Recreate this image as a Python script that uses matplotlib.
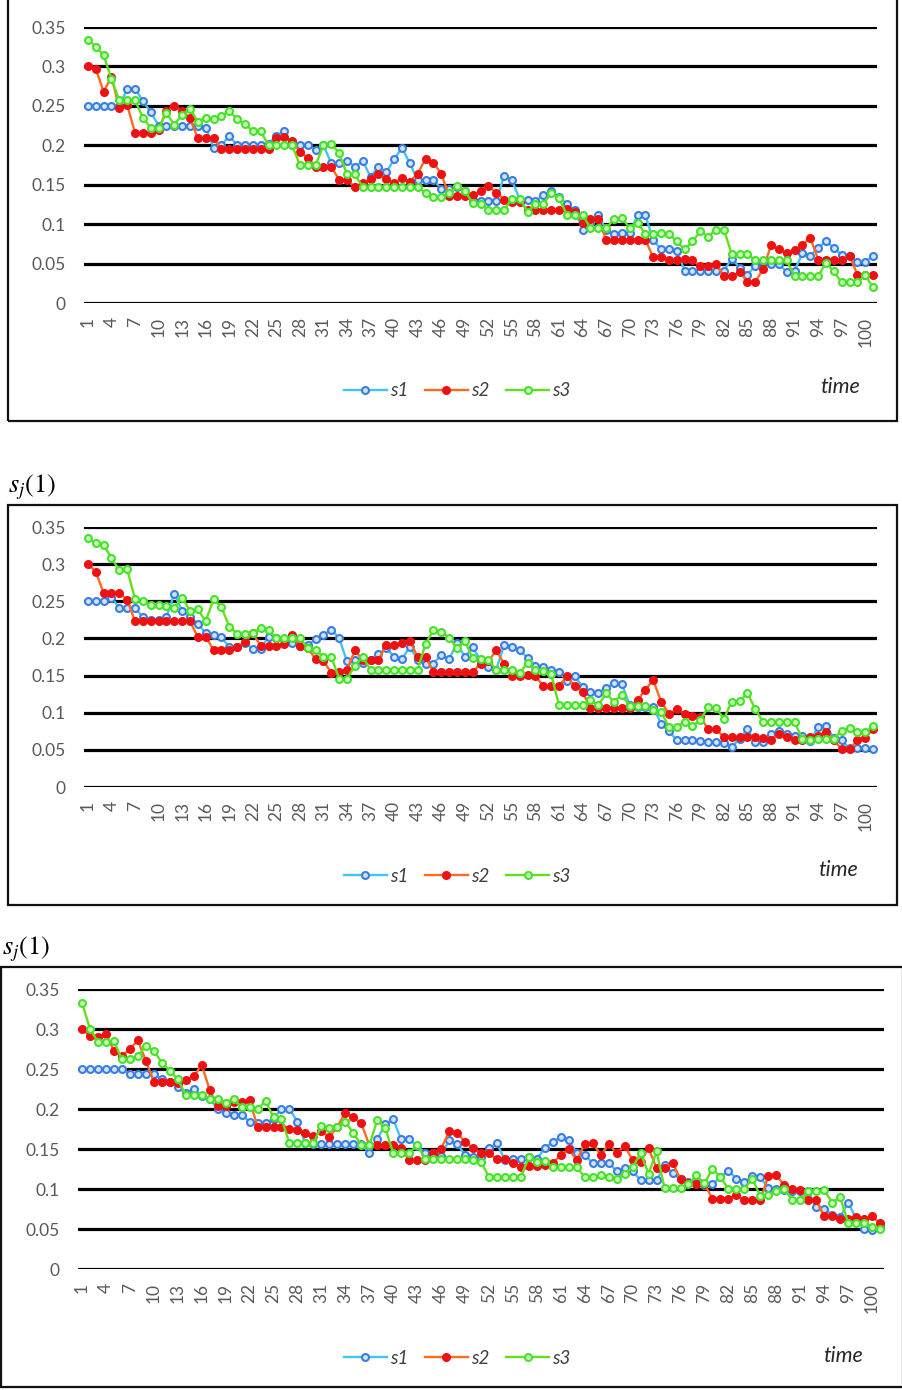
import matplotlib
matplotlib.use("Agg")
import matplotlib.pyplot as plt
from matplotlib.patches import Rectangle
import numpy as np

# ---- data -------------------------------------------------------------
time_steps = list(range(1, 102))
tick_labels = [str(t) for t in range(1, 101, 3)]
y_ticks = [0, 0.05, 0.1, 0.15, 0.2, 0.25, 0.3, 0.35]
y_tick_labels = ["0", "0.05", "0.1", "0.15", "0.2", "0.25", "0.3", "0.35"]
series_names = ["s1", "s2", "s3"]

p1_s1 = [0.25, 0.25, 0.25, 0.25, 0.25, 0.271, 0.272, 0.256, 0.242, 0.225,
         0.225, 0.225, 0.225, 0.225, 0.225, 0.222, 0.197, 0.2, 0.212, 0.2,
         0.2, 0.2, 0.2, 0.202, 0.212, 0.218, 0.2, 0.2, 0.2, 0.194,
         0.2, 0.177, 0.177, 0.18, 0.173, 0.18, 0.16, 0.173, 0.166, 0.182,
         0.197, 0.177, 0.156, 0.156, 0.156, 0.145, 0.145, 0.147, 0.142, 0.131,
         0.129, 0.129, 0.129, 0.161, 0.156, 0.131, 0.131, 0.129, 0.137, 0.142,
         0.135, 0.125, 0.118, 0.093, 0.101, 0.112, 0.093, 0.087, 0.089, 0.089,
         0.111, 0.111, 0.08, 0.068, 0.068, 0.066, 0.041, 0.041, 0.041, 0.041,
         0.041, 0.041, 0.056, 0.045, 0.036, 0.047, 0.052, 0.05, 0.05, 0.039,
         0.041, 0.063, 0.06, 0.07, 0.078, 0.07, 0.061, 0.06, 0.052, 0.052, 0.06]
p1_s2 = [0.301, 0.297, 0.268, 0.287, 0.247, 0.251, 0.216, 0.216, 0.216, 0.22,
         0.244, 0.25, 0.244, 0.234, 0.209, 0.209, 0.209, 0.195, 0.195, 0.195,
         0.195, 0.195, 0.195, 0.195, 0.209, 0.211, 0.205, 0.192, 0.184, 0.173,
         0.173, 0.173, 0.156, 0.156, 0.147, 0.152, 0.157, 0.164, 0.157, 0.152,
         0.158, 0.154, 0.164, 0.183, 0.178, 0.164, 0.136, 0.136, 0.136, 0.137,
         0.142, 0.148, 0.14, 0.131, 0.128, 0.128, 0.118, 0.118, 0.118, 0.118,
         0.118, 0.119, 0.115, 0.101, 0.107, 0.107, 0.08, 0.08, 0.08, 0.08,
         0.08, 0.08, 0.058, 0.058, 0.055, 0.054, 0.056, 0.054, 0.047, 0.047,
         0.05, 0.034, 0.034, 0.039, 0.027, 0.027, 0.043, 0.073, 0.068, 0.063,
         0.067, 0.073, 0.083, 0.055, 0.055, 0.055, 0.055, 0.06, 0.036, 0.036, 0.036]
p1_s3 = [0.334, 0.325, 0.314, 0.284, 0.257, 0.257, 0.257, 0.235, 0.222, 0.222,
         0.241, 0.226, 0.239, 0.246, 0.23, 0.235, 0.233, 0.237, 0.244, 0.233,
         0.227, 0.218, 0.218, 0.2, 0.2, 0.2, 0.2, 0.175, 0.175, 0.175,
         0.2, 0.202, 0.19, 0.163, 0.163, 0.147, 0.147, 0.147, 0.147, 0.147,
         0.147, 0.147, 0.147, 0.14, 0.134, 0.134, 0.139, 0.148, 0.142, 0.127,
         0.126, 0.118, 0.118, 0.118, 0.132, 0.132, 0.116, 0.125, 0.125, 0.14,
         0.133, 0.112, 0.112, 0.112, 0.095, 0.095, 0.095, 0.106, 0.108, 0.095,
         0.102, 0.087, 0.087, 0.089, 0.088, 0.078, 0.068, 0.078, 0.091, 0.084,
         0.093, 0.093, 0.062, 0.062, 0.062, 0.054, 0.054, 0.054, 0.054, 0.054,
         0.034, 0.034, 0.034, 0.034, 0.051, 0.04, 0.026, 0.026, 0.026, 0.035, 0.02]

p2_s1 = [0.25, 0.25, 0.25, 0.255, 0.241, 0.241, 0.241, 0.229, 0.225, 0.225,
         0.229, 0.26, 0.237, 0.229, 0.22, 0.207, 0.205, 0.202, 0.188, 0.188,
         0.194, 0.186, 0.186, 0.202, 0.2, 0.199, 0.194, 0.19, 0.191, 0.199,
         0.205, 0.212, 0.2, 0.169, 0.171, 0.167, 0.171, 0.179, 0.187, 0.175,
         0.172, 0.189, 0.171, 0.166, 0.166, 0.178, 0.172, 0.194, 0.175, 0.188,
         0.171, 0.162, 0.158, 0.191, 0.188, 0.185, 0.173, 0.163, 0.162, 0.158,
         0.155, 0.143, 0.149, 0.135, 0.128, 0.127, 0.133, 0.14, 0.139, 0.11,
         0.108, 0.108, 0.108, 0.085, 0.075, 0.063, 0.063, 0.063, 0.062, 0.061,
         0.06, 0.059, 0.054, 0.065, 0.078, 0.06, 0.06, 0.072, 0.076, 0.072,
         0.068, 0.069, 0.062, 0.081, 0.082, 0.066, 0.063, 0.052, 0.052, 0.052, 0.051]
p2_s2 = [0.3, 0.29, 0.261, 0.261, 0.261, 0.252, 0.223, 0.223, 0.223, 0.223,
         0.223, 0.223, 0.223, 0.223, 0.202, 0.202, 0.185, 0.185, 0.185, 0.188,
         0.195, 0.207, 0.19, 0.19, 0.19, 0.192, 0.205, 0.19, 0.187, 0.172,
         0.169, 0.154, 0.155, 0.158, 0.184, 0.171, 0.171, 0.171, 0.191, 0.191,
         0.194, 0.197, 0.175, 0.175, 0.155, 0.155, 0.155, 0.155, 0.155, 0.155,
         0.166, 0.169, 0.184, 0.166, 0.149, 0.149, 0.151, 0.149, 0.136, 0.136,
         0.136, 0.149, 0.136, 0.128, 0.106, 0.106, 0.106, 0.106, 0.106, 0.106,
         0.117, 0.131, 0.144, 0.115, 0.098, 0.105, 0.098, 0.095, 0.094, 0.078,
         0.078, 0.067, 0.067, 0.067, 0.067, 0.067, 0.066, 0.063, 0.071, 0.067,
         0.063, 0.063, 0.067, 0.068, 0.074, 0.063, 0.051, 0.051, 0.063, 0.066, 0.078]
p2_s3 = [0.335, 0.329, 0.326, 0.308, 0.292, 0.293, 0.253, 0.251, 0.245, 0.245,
         0.244, 0.241, 0.255, 0.237, 0.239, 0.223, 0.253, 0.242, 0.216, 0.206,
         0.206, 0.207, 0.214, 0.211, 0.2, 0.2, 0.2, 0.2, 0.187, 0.185,
         0.175, 0.175, 0.146, 0.146, 0.163, 0.175, 0.158, 0.158, 0.158, 0.158,
         0.158, 0.158, 0.158, 0.193, 0.211, 0.209, 0.201, 0.187, 0.197, 0.173,
         0.172, 0.171, 0.158, 0.158, 0.158, 0.154, 0.167, 0.157, 0.156, 0.152,
         0.11, 0.11, 0.11, 0.11, 0.117, 0.11, 0.126, 0.115, 0.124, 0.109,
         0.109, 0.109, 0.103, 0.101, 0.081, 0.081, 0.088, 0.082, 0.09, 0.108,
         0.106, 0.092, 0.115, 0.116, 0.126, 0.105, 0.087, 0.087, 0.087, 0.087,
         0.087, 0.065, 0.063, 0.065, 0.065, 0.065, 0.076, 0.08, 0.074, 0.074, 0.082]

p3_s1 = [0.25, 0.25, 0.25, 0.25, 0.25, 0.25, 0.244, 0.244, 0.244, 0.244,
         0.237, 0.234, 0.227, 0.22, 0.225, 0.216, 0.213, 0.2, 0.195, 0.193,
         0.193, 0.184, 0.183, 0.182, 0.188, 0.2, 0.2, 0.184, 0.157, 0.156,
         0.156, 0.156, 0.156, 0.156, 0.156, 0.156, 0.145, 0.162, 0.181, 0.187,
         0.162, 0.162, 0.154, 0.145, 0.145, 0.141, 0.161, 0.156, 0.143, 0.14,
         0.14, 0.151, 0.157, 0.136, 0.138, 0.138, 0.14, 0.138, 0.151, 0.159,
         0.165, 0.161, 0.145, 0.143, 0.132, 0.132, 0.132, 0.123, 0.126, 0.122,
         0.111, 0.111, 0.111, 0.13, 0.12, 0.112, 0.109, 0.108, 0.105, 0.106,
         0.115, 0.123, 0.113, 0.109, 0.116, 0.115, 0.101, 0.1, 0.099, 0.098,
         0.098, 0.098, 0.077, 0.075, 0.068, 0.065, 0.083, 0.063, 0.05, 0.049, 0.053]
p3_s2 = [0.3, 0.291, 0.29, 0.294, 0.273, 0.266, 0.275, 0.286, 0.26, 0.234,
         0.234, 0.234, 0.233, 0.236, 0.241, 0.255, 0.224, 0.204, 0.204, 0.209,
         0.209, 0.211, 0.178, 0.178, 0.178, 0.178, 0.175, 0.174, 0.17, 0.166,
         0.172, 0.165, 0.178, 0.195, 0.19, 0.182, 0.155, 0.155, 0.155, 0.155,
         0.151, 0.136, 0.136, 0.136, 0.145, 0.15, 0.172, 0.17, 0.159, 0.151,
         0.145, 0.145, 0.137, 0.137, 0.133, 0.128, 0.129, 0.129, 0.13, 0.133,
         0.142, 0.15, 0.136, 0.156, 0.158, 0.142, 0.156, 0.145, 0.154, 0.136,
         0.134, 0.151, 0.126, 0.126, 0.133, 0.112, 0.107, 0.106, 0.106, 0.088,
         0.088, 0.088, 0.092, 0.086, 0.086, 0.086, 0.116, 0.117, 0.105, 0.1,
         0.099, 0.086, 0.086, 0.066, 0.066, 0.062, 0.062, 0.065, 0.062, 0.066, 0.057]
p3_s3 = [0.333, 0.3, 0.284, 0.284, 0.285, 0.262, 0.262, 0.266, 0.279, 0.273,
         0.258, 0.248, 0.237, 0.218, 0.218, 0.218, 0.213, 0.213, 0.208, 0.213,
         0.202, 0.202, 0.2, 0.21, 0.19, 0.188, 0.157, 0.157, 0.157, 0.157,
         0.179, 0.176, 0.178, 0.184, 0.17, 0.155, 0.155, 0.186, 0.176, 0.145,
         0.145, 0.145, 0.155, 0.138, 0.138, 0.137, 0.137, 0.137, 0.137, 0.136,
         0.134, 0.115, 0.115, 0.115, 0.115, 0.115, 0.14, 0.134, 0.135, 0.127,
         0.127, 0.127, 0.127, 0.115, 0.115, 0.117, 0.115, 0.113, 0.119, 0.127,
         0.145, 0.119, 0.147, 0.101, 0.101, 0.101, 0.106, 0.117, 0.107, 0.125,
         0.115, 0.1, 0.1, 0.1, 0.113, 0.091, 0.092, 0.097, 0.1, 0.086,
         0.086, 0.097, 0.097, 0.099, 0.083, 0.09, 0.058, 0.058, 0.058, 0.053, 0.05]

panels = [(p1_s1, p1_s2, p1_s3), (p2_s1, p2_s2, p2_s3), (p3_s1, p3_s2, p3_s3)]

# ---- styling ------------------------------------------------------------
W, H = 902, 1390
TICK_FONT = "Lato"
TICK_COLOR = "#595959"

styles = [
    dict(color="#3fc4f4", marker="o", mfc="#cfe6ff", mec="#3b7de0", ms=5.0, mew=1.5, lw=1.7),
    dict(color="#ff6a1f", marker="o", mfc="#ee1111", mec="#ee1111", ms=5.3, mew=1.2, lw=1.7),
    dict(color="#63e01c", marker="o", mfc="#c8ffb0", mec="#48e030", ms=5.0, mew=1.5, lw=1.7),
]

# pixel layout: axes box (left, right, top, bottom), outer frame, legend row, "time", y label
layouts = [
    dict(ax=(84, 877, 27, 303), box=(8, -3, 897, 421), leg_y=391, ypad=13,
         time=(840, 387), ylabel=None),
    dict(ax=(84, 877, 527, 787), box=(8, 505, 897, 905), leg_y=876, ypad=13,
         time=(838, 870), ylabel=(8, 487)),
    dict(ax=(78, 884, 989, 1269), box=(1, 967, 903, 1387), leg_y=1358, ypad=13,
         time=(843, 1356), ylabel=(2, 949)),
]

plt.rcParams["mathtext.fontset"] = "stix"
fig = plt.figure(figsize=(W / 100, H / 100), dpi=100)

for data, lay in zip(panels, layouts):
    l, r, t, b = lay["ax"]
    ax = fig.add_axes([l / W, 1 - b / H, (r - l) / W, (b - t) / H])
    ax.set_xlim(0.5, 101.5)
    ax.set_ylim(0, 0.35)
    for gy in y_ticks:
        ax.axhline(gy, color="black", lw=2.3, zorder=1)
    handles = []
    for vals, st, name in zip(data, styles, series_names):
        h, = ax.plot(time_steps, vals, label=name, zorder=3, clip_on=False, **st)
        handles.append(h)
    for s in ax.spines.values():
        s.set_visible(False)
    ax.set_yticks(y_ticks)
    ax.set_yticklabels(y_tick_labels, fontsize=12.5, color=TICK_COLOR, family=TICK_FONT)
    ax.set_xticks(list(range(1, 101, 3)))
    ax.set_xticklabels(tick_labels, rotation=90, fontsize=12.5, color=TICK_COLOR,
                       family=TICK_FONT)
    ax.tick_params(axis="both", length=0)
    ax.tick_params(axis="y", pad=lay["ypad"])
    ax.tick_params(axis="x", pad=10)

    # outer frame around the chart
    x0, y0, x1, y1 = lay["box"]
    fig.patches.append(Rectangle((x0 / W, 1 - y1 / H), (x1 - x0) / W, (y1 - y0) / H,
                                 transform=fig.transFigure, fill=False,
                                 edgecolor="#111111", lw=1.6))

    leg = fig.legend(handles=handles, loc="center", ncol=3, frameon=False,
                     bbox_to_anchor=(457 / W, 1 - lay["leg_y"] / H),
                     handlelength=2.3, handletextpad=0.15, columnspacing=0.9,
                     prop=dict(family=TICK_FONT, style="italic", size=13.5))
    for txt in leg.get_texts():
        txt.set_color("#404040")

    tx, ty = lay["time"]
    fig.text(tx / W, 1 - ty / H, "time", ha="center", va="center", fontsize=15.5,
             style="italic", family=TICK_FONT, color="#262626")

    if lay["ylabel"] is not None:
        lx, ly = lay["ylabel"]
        fig.text(lx / W, 1 - ly / H, r"$s_j(1)$", ha="left", va="center",
                 fontsize=19, color="black")

fig.savefig("out.png", dpi=100, facecolor="white")
